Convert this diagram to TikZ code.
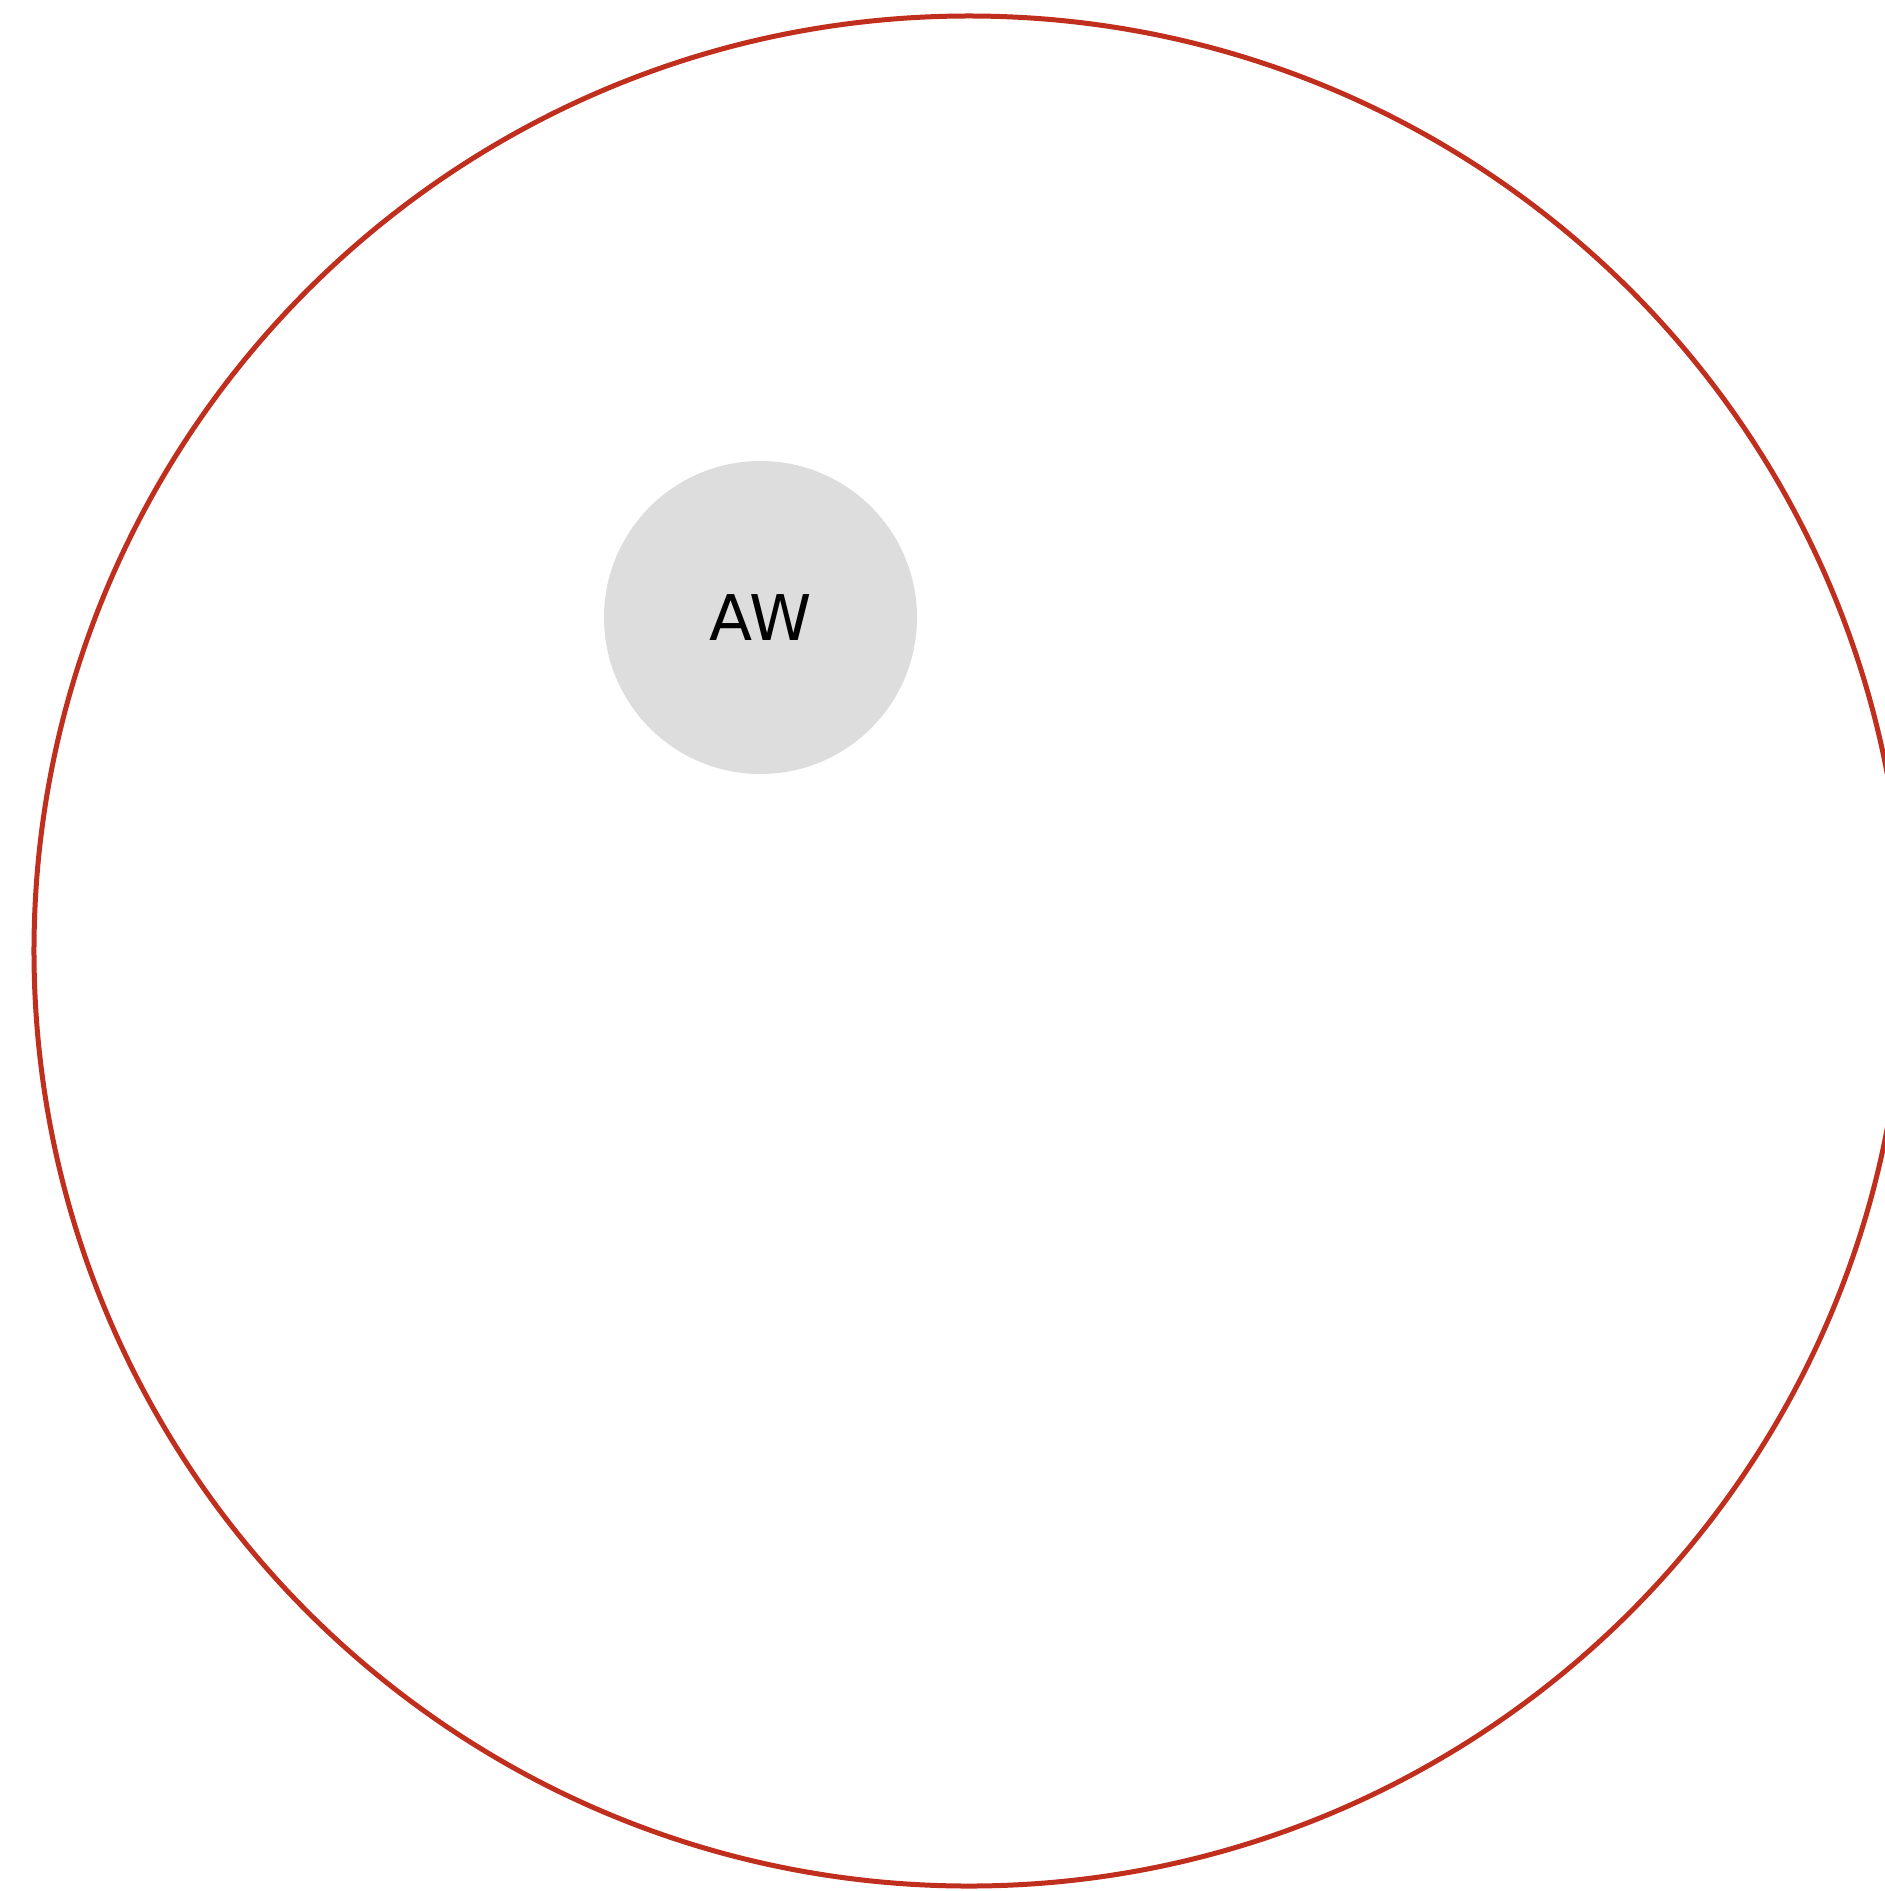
\documentclass[tikz,border=0pt]{standalone}
\usepackage{fontspec}
\setmainfont{DejaVu Sans}
\definecolor{ringred}{RGB}{192,46,30}
\definecolor{discgray}{RGB}{221,221,221}
\tikzset{
  ring/.style={circle, draw=ringred, line width=5bp, minimum size=1870bp, inner sep=0pt},
  disc/.style={circle, fill=discgray, minimum size=313bp, inner sep=0pt,
    font=\fontsize{63bp}{76bp}\selectfont, text=black}
}
\begin{document}
\begin{tikzpicture}[x=1bp,y=-1bp]
  \useasboundingbox (0,0) rectangle (1885,1891);
  \clip (0,0) rectangle (1885,1891);
  \node[ring] (outer) at (969,951) {};
  \node[disc] (aw) at (760.5,617.5) {AW};
\end{tikzpicture}
\end{document}
